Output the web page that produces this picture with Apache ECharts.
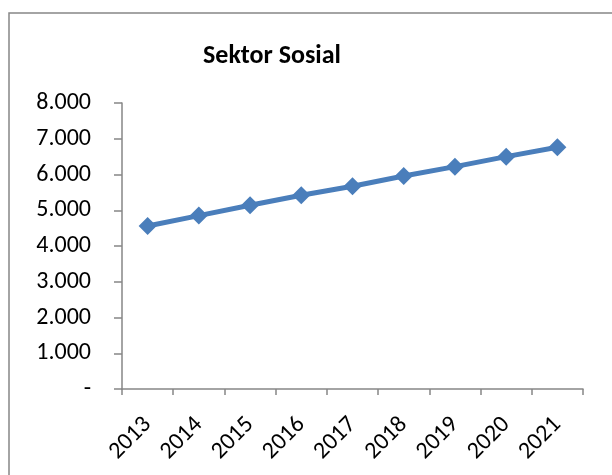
<!DOCTYPE html>
<html>
<head>
<meta charset="utf-8">
<script src="https://cdn.jsdelivr.net/npm/echarts@6/dist/echarts.min.js"></script>
<style>
  html, body { margin: 0; padding: 0; background: #fff; }
  #chart { width: 612px; height: 475px; }
</style>
</head>
<body>
<div id="chart"></div>
<script>
const years = ["2013", "2014", "2015", "2016", "2017", "2018", "2019", "2020", "2021"]
const sosial = [4560, 4850, 5140, 5420, 5670, 5960, 6220, 6500, 6760]
const yTicks = [0, 1000, 2000, 3000, 4000, 5000, 6000, 7000, 8000]

const font = "Carlito, 'Open Sans', sans-serif"
const axisGray = "#868686"

const chart = echarts.init(document.getElementById("chart"))
chart.setOption({
  animation: false,
  title: {
    text: "Sektor Sosial",
    left: 267,
    top: 38,
    textAlign: "center",
    textStyle: { fontFamily: font, fontSize: 26, fontWeight: "bold", color: "#000" },
  },
  graphic: [
    {
      type: "rect",
      shape: { x: 9, y: 13, width: 700, height: 600 },
      style: { fill: "none", stroke: "#878787", lineWidth: 1.5 },
      silent: true,
    },
  ],
  grid: { left: 122, right: 29, top: 103, bottom: 86 },
  xAxis: {
    type: "category",
    data: years,
    boundaryGap: true,
    axisLine: { lineStyle: { color: axisGray, width: 1.5 } },
    axisTick: { show: true, length: 6, lineStyle: { color: axisGray, width: 1.5 } },
    axisLabel: { rotate: 45, margin: 32, color: "#000", fontFamily: font, fontSize: 24 },
  },
  yAxis: {
    type: "value",
    min: yTicks[0],
    max: yTicks[yTicks.length - 1],
    interval: 1000,
    axisLine: { show: true, lineStyle: { color: axisGray, width: 1.5 } },
    axisTick: { show: true, length: 8, lineStyle: { color: axisGray, width: 1.5 } },
    splitLine: { show: false },
    axisLabel: {
      margin: 31,
      color: "#000",
      fontFamily: font,
      fontSize: 24,
      formatter: v => (v === 0 ? "-" : (v / 1000).toFixed(0) + ".000"),
    },
  },
  series: [
    {
      name: "Sektor Sosial",
      type: "line",
      data: sosial,
      symbol: "diamond",
      symbolSize: 18,
      itemStyle: { color: "#4A7EBB" },
      lineStyle: { color: "#4A7EBB", width: 5 },
    },
  ],
})
</script>
</body>
</html>
